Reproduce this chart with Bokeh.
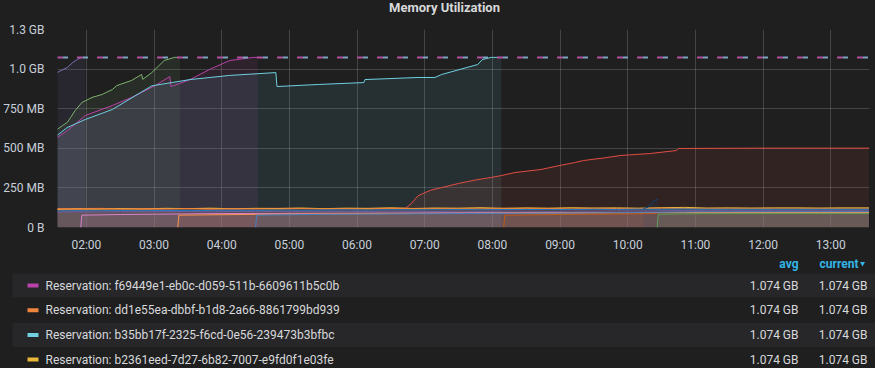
import pandas as pd
from bokeh.plotting import figure
from bokeh.models import Range1d, FixedTicker, DatetimeTickFormatter, ColumnDataSource
from bokeh.layouts import column
from bokeh.core.properties import value
from bokeh.embed import file_html
from bokeh.resources import INLINE

# ---------------- data (memory in MB, times HH:MM) ----------------
DAY = "2019-06-12 "
X_START, X_END = "01:34:25", "13:34:20"
LIMIT_MB = 1074
TITLE = "Memory Utilization"

purple_t = ["01:34", "01:43", "01:48", "01:52", "01:56", "01:59"]
purple_v = [978, 1010, 1042, 1061, 1074, 1074]

green_t = ["01:34", "01:39", "01:43", "01:46", "01:50", "01:56", "02:05", "02:14", "02:23", "02:27",
           "02:40", "02:49", "02:50", "02:58", "03:09", "03:18", "03:23"]
green_v = [619, 644, 663, 694, 738, 789, 821, 840, 871, 896, 928, 966, 935, 978, 1054, 1074, 1074]

magenta_t = ["01:34", "01:43", "01:59", "02:23", "02:40", "03:01", "03:14", "03:15", "03:32", "03:49",
             "04:07", "04:28", "04:32"]
magenta_v = [568, 610, 707, 770, 821, 896, 953, 890, 934, 997, 1054, 1074, 1074]

cyan_t = ["01:34", "01:43", "01:59", "02:23", "02:58", "03:32", "04:07", "04:48", "04:49", "05:26",
          "06:06", "06:07", "06:54", "07:09", "07:15", "07:47", "07:51", "07:59", "08:08"]
cyan_v = [581, 631, 682, 745, 894, 934, 960, 978, 890, 903, 915, 934, 947, 947, 966, 1029, 1060, 1074, 1074]

red_t = ["01:34", "02:10", "02:50", "03:30", "04:10", "04:50", "05:30", "06:10", "06:43", "06:48", "06:54",
         "07:05", "07:15", "07:30", "07:45", "07:59", "08:08", "08:20", "08:43", "09:00", "09:13", "09:21",
         "09:40", "09:54", "10:20", "10:43", "10:45", "12:00", "13:34"]
red_v = [118, 121, 117, 120, 118, 121, 119, 120, 122, 150, 200, 235, 252, 278, 300, 316, 328, 347, 366,
         392, 410, 423, 440, 455, 467, 486, 499, 501, 501]

grid_t = ["01:34", "01:50", "02:10", "02:30", "02:50", "03:10", "03:30", "03:50", "04:10", "04:30",
          "04:50", "05:10", "05:30", "05:50", "06:10", "06:30", "06:50", "07:10", "07:30", "07:50",
          "08:10", "08:30", "08:50", "09:10", "09:30", "09:50", "10:10", "10:30", "10:50", "11:10",
          "11:30", "11:50", "12:10", "12:30", "12:50", "13:10", "13:34"]
yellow_v = [114, 118, 116, 120, 117, 121, 119, 122, 118, 121, 120, 123, 119, 122, 121, 124, 120, 123,
            122, 125, 121, 124, 122, 125, 123, 124, 122, 125, 127, 123, 124, 123, 124, 124, 123, 124, 124]
orange_v = [118, 115, 119, 116, 118, 117, 120, 116, 119, 118, 117, 120, 118, 119, 117, 121, 118, 120,
            119, 118, 121, 119, 120, 118, 121, 120, 119, 122, 120, 118, 118, 119, 118, 118, 119, 118, 118]
blue_v = [104, 106, 105, 107, 106, 108, 107, 108, 109, 108, 110, 109, 110, 111, 110, 112, 111, 112,
          113, 112, 113, 114, 113, 114, 115, 114, 116, 115, 117, 115, 115, 115, 115, 115, 115, 115, 115]
violet_v = [97, 99, 98, 100, 99, 101, 100, 99, 101, 100, 102, 101, 100, 102, 101, 103, 102, 101,
            103, 102, 104, 103, 102, 104, 103, 105, 104, 106, 107, 106, 106, 106, 106, 106, 106, 106, 106]

mag2_t = ["01:55", "01:56", "02:30", "04:00", "07:00", "10:00", "13:34"]
mag2_v = [0, 78, 82, 88, 92, 95, 97]

orange2_t = ["03:21", "03:22", "04:30", "06:30", "08:30", "10:30", "13:34"]
orange2_v = [0, 78, 83, 88, 91, 94, 95]

blue2_t = ["04:30", "04:31", "05:30", "07:30", "09:30", "11:00", "13:34"]
blue2_v = [0, 78, 83, 88, 92, 99, 100]

brown_t = ["08:10", "08:11", "09:00", "09:45", "10:24", "10:26"]
brown_v = [0, 78, 82, 85, 88, 88]

navy_t = ["10:14", "10:18", "10:21", "10:24", "10:27"]
navy_v = [120, 128, 152, 172, 177]

green2_t = ["10:26", "10:27", "11:00", "12:00", "13:34"]
green2_v = [0, 84, 87, 88, 88]

series = [
    (purple_t, purple_v, "#806EB7"),
    (green_t, green_v, "#7EB26D"),
    (magenta_t, magenta_v, "#BA43A9"),
    (cyan_t, cyan_v, "#6ED0E0"),
    (red_t, red_v, "#E24D42"),
    (grid_t, yellow_v, "#EAB839"),
    (grid_t, orange_v, "#EF843C"),
    (grid_t, blue_v, "#1F78C1"),
    (grid_t, violet_v, "#705DA0"),
    (mag2_t, mag2_v, "#D683CE"),
    (orange2_t, orange2_v, "#F9934E"),
    (blue2_t, blue2_v, "#447EBC"),
    (brown_t, brown_v, "#C15C17"),
    (navy_t, navy_v, "#0A437C"),
    (green2_t, green2_v, "#629E51"),
]

y_ticks = [0, 250, 500, 750, 1000, 1250]
y_labels = ["0 B", "250 MB", "500 MB", "750 MB", "1.0 GB", "1.3 GB"]
x_ticks = ["02:00", "03:00", "04:00", "05:00", "06:00", "07:00", "08:00", "09:00", "10:00", "11:00",
           "12:00", "13:00"]

legend_names = ["Reservation: f69449e1-eb0c-d059-511b-6609611b5c0b",
                "Reservation: dd1e55ea-dbbf-b1d8-2a66-8861799bd939",
                "Reservation: b35bb17f-2325-f6cd-0e56-239473b3bfbc",
                "Reservation: b2361eed-7d27-6b82-7007-e9fd0f1e03fe"]
legend_colors = ["#BA43A9", "#EF843C", "#6ED0E0", "#EAB839"]
legend_avg = ["1.074 GB", "1.074 GB", "1.074 GB", "1.074 GB"]
legend_current = ["1.074 GB", "1.074 GB", "1.074 GB", "1.074 GB"]

# ---------------- styling ----------------
BG = "#1f1f20"
TXT = "#c7d0d9"
FONT = "Roboto"
W = 875


def ts(t):
    return pd.to_datetime([DAY + s for s in t])


def blank(h):
    f = figure(width=W, height=h, output_backend="svg", toolbar_location=None,
               x_range=Range1d(0, W), y_range=Range1d(h, 0), min_border=0)
    f.background_fill_color = BG
    f.border_fill_color = BG
    f.outline_line_color = None
    f.axis.visible = False
    f.grid.visible = False
    return f


# ---------------- title strip ----------------
TH = 22
tf = blank(TH)
tf.text(x=[444], y=[7], text=[TITLE], text_color="#d8d9da", text_font=value(FONT),
        text_font_size="13px", text_font_style="bold", text_align="center", text_baseline="middle")

# ---------------- main chart ----------------
p = figure(width=W, height=233, output_backend="svg", toolbar_location=None,
           x_axis_type="datetime",
           x_range=Range1d(pd.Timestamp(DAY + X_START), pd.Timestamp(DAY + X_END)),
           y_range=Range1d(0, 1250),
           min_border_left=52, min_border_right=6, min_border_top=7, min_border_bottom=28)
p.background_fill_color = BG
p.border_fill_color = BG
p.outline_line_color = None

# fills
for t, v, c in series:
    p.varea(x=ts(t), y1=0, y2=v, fill_color=c, fill_alpha=0.1)
# lines
for t, v, c in series:
    p.line(x=ts(t), y=v, line_color=c, line_width=1)

# limit lines (dashed)
lim_t = ts(["01:34", "13:35"])
p.line(x=lim_t, y=[LIMIT_MB, LIMIT_MB], line_color="#b0509f", line_width=2, line_dash="6 14")
p.line(x=lim_t, y=[LIMIT_MB, LIMIT_MB], line_color="#7aa6c0", line_width=2, line_dash="5 15",
       line_dash_offset=14)

# axes
p.yaxis.ticker = FixedTicker(ticks=y_ticks)
p.yaxis.major_label_overrides = {t: l for t, l in zip(y_ticks, y_labels)}
xt = [pd.Timestamp(DAY + s).value // 10**6 for s in x_ticks]
p.xaxis.ticker = FixedTicker(ticks=xt)
p.xaxis.formatter = DatetimeTickFormatter(hours="%H:%M", minutes="%H:%M", hourmin="%H:%M")
for ax in (p.xaxis[0], p.yaxis[0]):
    ax.axis_line_color = None
    ax.major_tick_line_color = None
    ax.minor_tick_line_color = None
    ax.major_label_text_color = TXT
    ax.major_label_text_font = FONT
    ax.major_label_text_font_size = "12px"
p.yaxis.major_label_standoff = 7
p.xaxis.major_label_standoff = 4
p.grid.grid_line_color = "#c8c8c8"
p.grid.grid_line_alpha = 0.22

# ---------------- legend table ----------------
LH = 113
lg = blank(LH)

for fig in (tf, p, lg):
    if "frame_align" in fig.properties():
        fig.frame_align = False

row0, row_h = 30, 24.7
ys = [row0 + i * row_h for i in range(len(legend_names))]
stripe_y = [y for i, y in enumerate(ys) if i % 2 == 0]
lg.quad(left=12, right=876, top=[y - 12 for y in stripe_y], bottom=[y + 12 for y in stripe_y],
        fill_color="#27272a", line_color=None)
src = ColumnDataSource(dict(y=ys, name=legend_names, color=legend_colors,
                            avg=legend_avg, cur=legend_current))
lg.rect(x=32.5, y="y", width=11, height=4, fill_color="color", line_color=None, source=src)
lg.text(x=45, y="y", text="name", text_color="#d8d9da", text_font=value(FONT),
        text_font_size="12px", text_baseline="middle", source=src)
lg.text(x=798, y="y", text="avg", text_color="#d8d9da", text_font=value(FONT),
        text_font_size="12px", text_baseline="middle", text_align="right", source=src)
lg.text(x=867, y="y", text="cur", text_color="#d8d9da", text_font=value(FONT),
        text_font_size="12px", text_baseline="middle", text_align="right", source=src)
lg.text(x=[798, 858], y=[8, 8], text=["avg", "current"], text_color="#33b5e5", text_font=value(FONT),
        text_font_size="12px", text_font_style="bold", text_baseline="middle", text_align="right")
lg.scatter(x=[862], y=[8], marker="inverted_triangle", size=5, fill_color="#33b5e5", line_color=None)

layout = column(tf, p, lg, spacing=0, styles={"background-color": BG})
open("out.html", "w").write(file_html(layout, INLINE))
